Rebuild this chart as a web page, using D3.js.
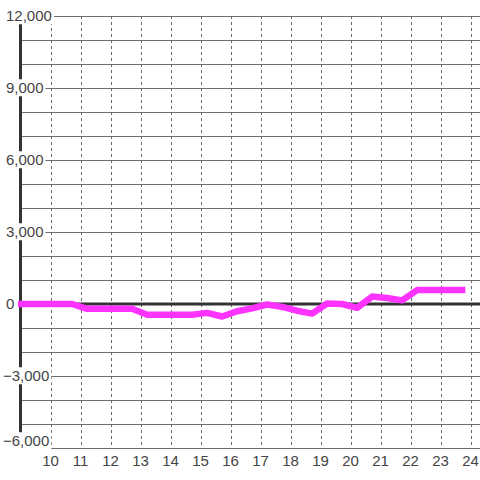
<!DOCTYPE html>
<html>
<head>
<meta charset="utf-8">
<script src="https://cdn.jsdelivr.net/npm/d3@7/dist/d3.min.js"></script>
<style>
  html, body { margin: 0; padding: 0; background: #fff; }
  svg { display: block; }
  text { font-family: "Liberation Sans", Arial, sans-serif; }
</style>
</head>
<body>
<svg id="chart" width="480" height="480"></svg>
<script>
// ---- data ----
const hours = [8.72, 9.22, 9.72, 10.22, 10.72, 11.22, 11.72, 12.22, 12.72, 13.22,
               13.72, 14.22, 14.72, 15.22, 15.72, 16.22, 16.72, 17.22, 17.72, 18.22,
               18.72, 19.22, 19.72, 20.22, 20.72, 21.22, 21.72, 22.22, 22.72, 23.22, 23.72];
const values = [0, 0, 0, 0, 0, -200, -200, -200, -200, -450,
                -450, -450, -450, -370, -520, -300, -180, -20, -120, -280,
                -400, 20, 0, -160, 310, 250, 150, 580, 580, 580, 580];
const xTicks = [10, 11, 12, 13, 14, 15, 16, 17, 18, 19, 20, 21, 22, 23, 24];
const yGrid = [-6000, -5000, -4000, -3000, -2000, -1000, 0, 1000, 2000, 3000, 4000, 5000,
               6000, 7000, 8000, 9000, 10000, 11000, 12000];
const yLabels = [-6000, -3000, 0, 3000, 6000, 9000, 12000];

// ---- chart ----
const svg = d3.select("#chart");
const W = 480, H = 480;
const x = d3.scaleLinear().domain([9, 24.3333]).range([20.5, 480.5]);
const y = d3.scaleLinear().domain([-6000, 12000]).range([448, 16]);
const left = 20.5;

// vertical dashed gridlines
svg.append("g").selectAll("line").data(xTicks).join("line")
  .attr("x1", d => Math.round(x(d)) + 0.5).attr("x2", d => Math.round(x(d)) + 0.5)
  .attr("y1", y(12000)).attr("y2", y(-6000))
  .attr("stroke", "#666").attr("stroke-width", 1).attr("stroke-dasharray", "3,3");

// horizontal gridlines
svg.append("g").selectAll("line").data(yGrid.filter(d => d !== 0)).join("line")
  .attr("x1", left).attr("x2", W)
  .attr("y1", d => Math.round(y(d)) + 0.5).attr("y2", d => Math.round(y(d)) + 0.5)
  .attr("stroke", "#6e6e6e").attr("stroke-width", 1.2);

// zero line
svg.append("line")
  .attr("x1", left).attr("x2", W).attr("y1", y(0)).attr("y2", y(0))
  .attr("stroke", "#333").attr("stroke-width", 3);

// y axis line
svg.append("line")
  .attr("x1", left).attr("x2", left).attr("y1", y(12000)).attr("y2", y(-6000))
  .attr("stroke", "#333").attr("stroke-width", 3);

// data line
svg.append("defs").append("clipPath").attr("id", "clip")
  .append("rect").attr("x", 18).attr("y", 0).attr("width", W - 18).attr("height", H);
const line = d3.line().x((d, i) => x(hours[i])).y(d => y(d));
svg.append("path").datum(values)
  .attr("clip-path", "url(#clip)")
  .attr("d", line)
  .attr("fill", "none").attr("stroke", "#ff33ff").attr("stroke-width", 6.5)
  .attr("stroke-linejoin", "round").attr("stroke-linecap", "square");

// y labels with white background
const fmt = d3.format(",");
const yl = svg.append("g");
yLabels.forEach(v => {
  let ty = y(v);
  if (v === -6000) ty -= 7;
  const g = yl.append("g");
  const t = g.append("text")
    .attr("x", v < 0 ? 3 : 6).attr("y", ty).attr("dy", "0.35em")
    .attr("font-size", 15).attr("fill", "#444").text(fmt(v));
  const bb = t.node().getBBox();
  g.insert("rect", "text")
    .attr("x", bb.x - 1).attr("y", bb.y).attr("width", bb.width + 3).attr("height", bb.height)
    .attr("fill", "#fff");
});

// x labels
svg.append("g").selectAll("text").data(xTicks).join("text")
  .attr("x", d => x(d)).attr("y", 466)
  .attr("text-anchor", "middle").attr("font-size", 15).attr("fill", "#444")
  .text(d => d);
</script>
</body>
</html>
